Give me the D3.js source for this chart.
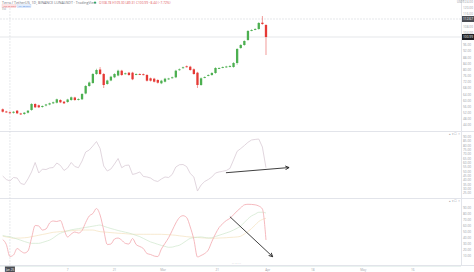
<!DOCTYPE html>
<html>
<head>
<meta charset="utf-8">
<script src="https://cdn.jsdelivr.net/npm/d3@7"></script>
<style>
  html, body { margin: 0; padding: 0; background: #fff; }
  svg { display: block; font-family: "Open Sans", sans-serif; }
</style>
</head>
<body>
<svg id="chart" width="474" height="272"></svg>
<script>
// daily candles, oldest first (prices)
var opens = [54.08, 52.65, 52.13, 51.81, 53.17, 51.36, 51.03, 51.88, 53.63, 57.52,
  56.68, 55.57, 56.55, 57.20, 57.97, 58.36, 60.11, 59.01, 58.82, 60.11,
  61.74, 60.24, 60.57, 64.33, 69.20, 71.15, 76.99, 79.90, 76.99, 70.50,
  72.77, 74.84, 76.01, 79.13, 77.12, 77.83, 77.83, 76.66, 76.99, 76.85,
  76.34, 74.19, 73.94, 73.09, 70.95, 71.99, 73.74, 74.52, 74.84, 79.58,
  81.01, 81.98, 81.72, 80.04, 77.83, 69.85, 74.71, 76.01, 76.34, 77.63,
  80.68, 81.20, 81.53, 81.85, 81.53, 84.12, 93.86, 95.80, 99.05, 105.21,
  105.86, 106.18, 110.27, 108.78];
var closes = [52.52, 52.33, 51.81, 52.46, 51.49, 50.90, 51.88, 53.17, 57.52, 55.38,
  55.38, 56.22, 57.20, 57.97, 58.62, 60.57, 58.62, 57.97, 60.44, 61.87,
  60.11, 60.76, 64.01, 69.20, 71.47, 76.99, 79.58, 76.99, 69.85, 72.77,
  75.23, 76.99, 79.13, 76.34, 77.44, 76.34, 73.55, 76.99, 76.79, 76.60,
  72.64, 72.64, 71.99, 71.34, 72.64, 73.94, 74.07, 74.84, 79.13, 80.04,
  81.33, 81.66, 79.58, 76.99, 69.85, 74.19, 75.04, 76.34, 77.63, 80.88,
  80.88, 81.53, 81.85, 82.18, 84.12, 93.21, 95.80, 98.40, 104.89, 105.53,
  106.18, 110.08, 109.43, 100.99];
var highs = [54.6, 53.1, 52.6, 52.9, 53.6, 51.8, 52.3, 53.6, 58.1, 58.0,
  57.1, 56.6, 57.6, 58.4, 59.1, 61.0, 60.6, 59.4, 60.9, 62.4,
  62.2, 61.2, 64.6, 69.8, 72.1, 77.6, 80.4, 81.5, 77.6, 73.3,
  75.8, 77.5, 79.8, 79.7, 77.9, 78.3, 78.4, 77.4, 77.4, 77.3,
  76.9, 74.7, 74.5, 73.6, 73.2, 74.5, 74.5, 75.3, 79.7, 80.6,
  81.8, 82.5, 82.3, 80.6, 78.4, 74.8, 75.5, 76.8, 78.2, 81.4,
  81.3, 81.9, 82.3, 82.7, 84.7, 93.8, 96.4, 98.9, 105.5, 106.0,
  106.7, 110.7, 114.6, 109.3];
var lows = [52.0, 51.8, 51.3, 51.3, 51.0, 50.4, 50.5, 51.4, 53.1, 54.9,
  54.9, 55.1, 56.0, 56.7, 57.5, 57.9, 58.1, 57.5, 58.3, 59.6,
  59.6, 59.8, 60.1, 63.8, 68.7, 70.6, 76.4, 76.4, 67.9, 70.0,
  72.3, 74.3, 75.5, 75.8, 76.6, 75.8, 73.0, 76.2, 76.3, 76.1,
  72.1, 72.1, 71.5, 70.8, 70.4, 71.5, 73.2, 74.0, 74.3, 79.1,
  80.5, 81.2, 79.1, 76.5, 67.9, 69.3, 74.2, 75.5, 75.8, 77.1,
  80.2, 80.7, 81.0, 81.3, 81.0, 83.0, 93.3, 95.3, 98.5, 104.7,
  105.4, 105.7, 108.9, 89.3];

// RSI pane
var rsi = [44.2, 40.2, 38.5, 42.5, 41.9, 35.6, 34.4, 40.8, 48.9, 59.8,
  47.7, 52.1, 51.7, 53.5, 54.0, 59.2, 56.4, 50.6, 53.5, 59.8,
  55.2, 53.8, 61.5, 71.9, 74.2, 78.9, 84.0, 76.0, 55.8, 50.0,
  52.3, 58.1, 64.4, 53.8, 56.4, 56.9, 46.0, 47.1, 48.9, 43.7,
  43.1, 41.9, 39.0, 37.9, 40.8, 43.1, 42.5, 46.0, 54.6, 57.2,
  57.5, 55.1, 47.1, 43.1, 26.9, 33.8, 37.9, 40.2, 43.1, 47.7,
  48.9, 49.7, 50.6, 53.0, 62.7, 72.7, 75.9, 79.4, 83.1, 85.8,
  86.4, 86.9, 77.7, 53.8];

// oscillator pane: %K and two averages
var stochK = [36.9, 28.7, 9.0, 11.5, 22.1, 18.0, 14.8, 18.0, 39.3, 59.8,
  59.0, 52.4, 54.1, 63.9, 67.2, 66.4, 68.0, 53.3, 41.0, 45.9,
  49.2, 47.5, 51.6, 64.7, 75.4, 79.5, 87.7, 77.0, 52.4, 28.7,
  29.5, 37.7, 39.3, 35.7, 30.6, 29.5, 38.5, 28.7, 25.4, 22.1,
  13.9, 12.3, 9.8, 9.0, 21.3, 30.6, 39.8, 51.6, 63.9, 72.9,
  75.9, 72.9, 57.4, 36.9, 8.2, 10.7, 13.9, 19.7, 33.6, 46.1,
  56.5, 62.8, 68.0, 71.5, 77.5, 83.6, 88.8, 93.7, 94.6, 94.4,
  93.7, 91.8, 86.9, 36.1];
var maFast = [43.4, 42.1, 41.5, 39.7, 37.7, 35.7, 33.6, 31.8, 30.6, 30.6,
  30.6, 32.0, 33.9, 35.9, 39.3, 43.6, 47.2, 49.2, 51.1, 52.8,
  53.8, 54.7, 55.7, 56.7, 57.7, 58.7, 59.7, 60.6, 58.7, 56.7,
  54.9, 53.3, 51.6, 50.2, 48.8, 47.5, 45.7, 43.6, 41.6, 38.7,
  35.7, 32.9, 31.0, 29.0, 27.2, 25.6, 24.1, 24.4, 26.1, 27.5,
  31.1, 35.1, 38.8, 39.8, 40.8, 41.1, 40.2, 39.3, 39.8, 41.8,
  43.8, 45.7, 47.7, 49.7, 52.4, 55.4, 59.0, 64.9, 70.8, 75.6,
  78.5, 81.5, 81.6, 80.3];
var maSlow = [42.3, 41.1, 40.0, 38.8, 39.2, 39.3, 39.7, 40.3, 41.5, 42.6,
  43.9, 45.1, 46.2, 47.5, 48.7, 49.2, 49.8, 50.5, 51.0, 51.3,
  51.8, 52.3, 52.4, 52.4, 52.4, 52.4, 51.1, 49.7, 49.2, 48.7,
  48.2, 47.7, 47.2, 46.9, 46.4, 45.9, 45.4, 45.4, 45.4, 45.4,
  45.4, 45.4, 45.4, 45.4, 45.4, 45.1, 44.7, 44.3, 43.8, 42.9,
  42.3, 41.5, 41.0, 40.6, 40.2, 39.7, 39.3, 39.2, 38.8, 39.0,
  39.3, 39.5, 39.8, 40.3, 40.6, 41.1, 42.3, 45.9, 50.0, 54.9,
  60.6, 66.4, 69.7, 71.6];

// time axis
var timeTicks = [18, 31, 44.5, 59.5, 73.5, 86, 100, 113.7];
var timeLabels = ["7", "21", "Mar", "21", "Apr", "18", "May", "16"];

// horizontal price lines: crosshair and last price
var crossPrice = 112.67;
var crossIndex = 2.0;
var lastPrice = 100.99;

// drawn arrows (candle index, value)
var rsiArrow = [[61.9, 48.0], [79.4, 54.0]];
var oscArrow = [[63.0, 74.2], [74.85, 8.7]];

var width = 474, height = 272, axisX = 461;
var green = "#4caf50", red = "#e53935";

var svg = d3.select("#chart");

var x = d3.scaleLinear().domain([-0.75, 127.07]).range([0, axisX]);
var yPrice = d3.scaleLinear().domain([40, 125]).range([131, 0]);
var yRsi = d3.scaleLinear().domain([20, 95]).range([197, 132]);
var yOsc = d3.scaleLinear().domain([0, 100]).range([262, 201]);

var candles = opens.map(function(o, i) {
  return { i: i, o: o, h: highs[i], l: lows[i], c: closes[i] };
});

svg.append("defs").append("marker")
  .attr("id", "arrow")
  .attr("viewBox", "0 0 8 8")
  .attr("refX", 7).attr("refY", 4)
  .attr("markerWidth", 5).attr("markerHeight", 5)
  .attr("markerUnits", "userSpaceOnUse")
  .attr("orient", "auto")
  .append("path")
  .attr("d", "M1,1 L7,4 L1,7")
  .attr("fill", "none")
  .attr("stroke", "#222")
  .attr("stroke-width", 1.4);

// navigator strip under the last pane
svg.append("rect")
  .attr("x", 0).attr("y", 265).attr("width", axisX).attr("height", 2)
  .attr("fill", "#eaf2f0");

// pane separators and price axis border
[131, 198, 265].forEach(function(yy) {
  svg.append("line")
    .attr("x1", 0).attr("x2", width)
    .attr("y1", yy + 0.5).attr("y2", yy + 0.5)
    .attr("stroke", "#e2e4ea").attr("stroke-width", 1);
});
svg.append("line")
  .attr("x1", axisX + 0.5).attr("x2", axisX + 0.5)
  .attr("y1", 0).attr("y2", 265)
  .attr("stroke", "#e2e4ea");

// crosshair
svg.append("line")
  .attr("x1", x(crossIndex)).attr("x2", x(crossIndex))
  .attr("y1", 8).attr("y2", 265)
  .attr("stroke", "#d8dae0").attr("stroke-width", 0.6)
  .attr("stroke-dasharray", "2,1");
svg.append("line")
  .attr("x1", 0).attr("x2", axisX)
  .attr("y1", yPrice(crossPrice)).attr("y2", yPrice(crossPrice))
  .attr("stroke", "#d4d6dc").attr("stroke-width", 0.6)
  .attr("stroke-dasharray", "2,1");
// last price line
svg.append("line")
  .attr("x1", 0).attr("x2", axisX)
  .attr("y1", yPrice(lastPrice)).attr("y2", yPrice(lastPrice))
  .attr("stroke", "#d4d6dc").attr("stroke-width", 0.6);

// candles
var cg = svg.append("g").attr("class", "candles");
cg.selectAll("line.wick")
  .data(candles)
  .enter().append("line")
  .attr("class", "wick")
  .attr("x1", function(d) { return x(d.i); })
  .attr("x2", function(d) { return x(d.i); })
  .attr("y1", function(d) { return yPrice(d.h); })
  .attr("y2", function(d) { return yPrice(d.l); })
  .attr("stroke", function(d) { return d.c >= d.o ? green : red; })
  .attr("stroke-width", 0.5);
cg.selectAll("rect.body")
  .data(candles)
  .enter().append("rect")
  .attr("class", "body")
  .attr("x", function(d) { return x(d.i) - 1.15; })
  .attr("width", 2.3)
  .attr("y", function(d) { return yPrice(Math.max(d.o, d.c)); })
  .attr("height", function(d) { return Math.max(0.9, Math.abs(yPrice(d.o) - yPrice(d.c))); })
  .attr("fill", function(d) { return d.c >= d.o ? green : red; });

// RSI line
svg.append("path")
  .datum(rsi)
  .attr("fill", "none")
  .attr("stroke", "#d9cbd6")
  .attr("stroke-width", 0.8)
  .attr("d", d3.line().x(function(d, i) { return x(i); }).y(function(d) { return yRsi(d); }));

// oscillator lines
function oscLine(data, colour, w) {
  svg.append("path")
    .datum(data)
    .attr("fill", "none")
    .attr("stroke", colour)
    .attr("stroke-width", w)
    .attr("d", d3.line().curve(d3.curveMonotoneX)
      .x(function(d, i) { return x(i); }).y(function(d) { return yOsc(d); }));
}
oscLine(maSlow, "#f3e1bd", 0.7);
oscLine(maFast, "#cfe7cc", 0.7);
oscLine(stochK, "#f2a7ad", 0.8);

// drawn arrows
function arrow(pts, yScale) {
  svg.append("line")
    .attr("x1", x(pts[0][0])).attr("y1", yScale(pts[0][1]))
    .attr("x2", x(pts[1][0])).attr("y2", yScale(pts[1][1]))
    .attr("stroke", "#2a2a2a").attr("stroke-width", 0.9)
    .attr("marker-end", "url(#arrow)");
}
arrow(rsiArrow, yRsi);
arrow(oscArrow, yOsc);

// right axes
function rightAxis(scale, values, fmt) {
  var g = svg.append("g")
    .attr("transform", "translate(" + (axisX + 2) + ",0)")
    .call(d3.axisRight(scale).tickValues(values).tickSize(0).tickPadding(0).tickFormat(fmt));
  g.select(".domain").remove();
  g.selectAll("text")
    .attr("font-size", 3.2)
    .attr("fill", "#9a9da6")
    .attr("font-family", "Open Sans, sans-serif");
  return g;
}
// leave room for the two price tags
var priceTicks = d3.range(44, 125, 4).filter(function(v) {
  return Math.abs(yPrice(v) - yPrice(crossPrice)) > 4.5 &&
         Math.abs(yPrice(v) - yPrice(lastPrice)) > 4.5;
});
rightAxis(yPrice, priceTicks, d3.format(".2f"));
rightAxis(yRsi, d3.range(25, 95, 5), d3.format(".2f"));
rightAxis(yOsc, d3.range(10, 100, 10), d3.format(".2f"));

// price labels on the axis
function priceTag(p, bg) {
  var yy = yPrice(p);
  svg.append("rect")
    .attr("x", axisX + 1).attr("y", yy - 3)
    .attr("width", width - axisX - 1).attr("height", 6)
    .attr("fill", bg);
  svg.append("text")
    .attr("x", axisX + 2).attr("y", yy + 1.1)
    .attr("font-size", 3.2).attr("fill", "#fff")
    .text(d3.format(".2f")(p));
}
priceTag(crossPrice, "#4a4c53");
priceTag(lastPrice, "#1e1f24");

// time axis
var tg = svg.append("g");
tg.selectAll("text")
  .data(timeTicks)
  .enter().append("text")
  .attr("x", function(d) { return x(d); })
  .attr("y", 270.5)
  .attr("text-anchor", "middle")
  .attr("font-size", 3.2)
  .attr("fill", "#a3a6ae")
  .text(function(d, i) { return timeLabels[i]; });
svg.append("rect")
  .attr("x", x(crossIndex) - 5).attr("y", 266.5)
  .attr("width", 10).attr("height", 5.5)
  .attr("fill", "#4a4c53");
svg.append("text")
  .attr("x", x(crossIndex)).attr("y", 270.6)
  .attr("text-anchor", "middle")
  .attr("font-size", 3).attr("fill", "#fff")
  .text("Jan 25");

// legend
svg.append("text")
  .attr("x", 2).attr("y", 3.6)
  .attr("font-size", 3.6).attr("fill", "#6d707b")
  .text("Terra / TetherUS, 1D, BINANCE  LUNAUSDT · TradingView");
svg.append("circle")
  .attr("cx", 95).attr("cy", 2.5).attr("r", 1)
  .attr("fill", "#26a65b");
svg.append("text")
  .attr("x", 99).attr("y", 3.6)
  .attr("font-size", 3.2).attr("fill", "#e0575b")
  .text("O108.78 H109.30 L89.31 C100.99 −8.44 (−7.72%)");
svg.append("rect").attr("x", 2).attr("y", 4.8).attr("width", 14).attr("height", 3)
  .attr("fill", "#fde5e6").attr("stroke", "#f3b5b8").attr("stroke-width", 0.3);
svg.append("text").attr("x", 3).attr("y", 7.2)
  .attr("font-size", 2.4).attr("fill", "#e0575b").text("100.98 SELL");
svg.append("rect").attr("x", 17).attr("y", 4.8).attr("width", 14).attr("height", 3)
  .attr("fill", "#e3eefc").attr("stroke", "#b5cdf3").attr("stroke-width", 0.3);
svg.append("text").attr("x", 18).attr("y", 7.2)
  .attr("font-size", 2.4).attr("fill", "#3c7be0").text("101.00 BUY");
svg.append("text")
  .attr("x", 2).attr("y", 10.4)
  .attr("font-size", 2.8).attr("fill", "#8d9099")
  .text("Vol");
svg.append("text")
  .attr("x", 457).attr("y", 3.2)
  .attr("font-size", 2.8).attr("fill", "#8d9099")
  .text("USDT");

// pane controls
[133.5, 200.5].forEach(function(yy) {
  svg.append("text")
    .attr("x", 449).attr("y", yy + 1)
    .attr("font-size", 2.8).attr("fill", "#a3a6ae")
    .text("▴ ▾ ☐ ×");
});
svg.append("text")
  .attr("x", 232).attr("y", 264.5)
  .attr("font-size", 2.6).attr("fill", "#8d9099")
  .text("· · · · · · ·");
</script>
</body>
</html>
